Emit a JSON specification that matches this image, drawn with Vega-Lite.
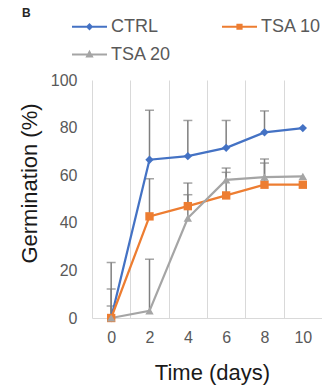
{
  "$schema": "https://vega.github.io/schema/vega-lite/v6.json",
  "autosize": {"type": "none"},
  "padding": {"left": 92, "top": 80, "right": 0, "bottom": 70},
  "width": 230,
  "height": 238,
  "background": "white",
  "title": {"text": "B", "anchor": "start", "frame": "group", "fontSize": 12, "fontWeight": "bold", "font": "Liberation Sans", "color": "#262626", "dx": -70, "dy": 12, "offset": 0},
  "config": {"view": {"stroke": null}, "font": "Liberation Sans"},
  "data": {"values": [
    {"series": "CTRL", "day": 0, "value": 0, "hi": 23.3},
    {"series": "CTRL", "day": 2, "value": 66.5, "hi": 87.3},
    {"series": "CTRL", "day": 4, "value": 68, "hi": 83},
    {"series": "CTRL", "day": 6, "value": 71.5, "hi": 83},
    {"series": "CTRL", "day": 8, "value": 78, "hi": 87},
    {"series": "CTRL", "day": 10, "value": 79.8, "hi": 79.8},
    {"series": "TSA 10", "day": 0, "value": 0, "hi": 12.2},
    {"series": "TSA 10", "day": 2, "value": 42.7, "hi": 58.5},
    {"series": "TSA 10", "day": 4, "value": 47, "hi": 56.7},
    {"series": "TSA 10", "day": 6, "value": 51.5, "hi": 61.2},
    {"series": "TSA 10", "day": 8, "value": 56, "hi": 65.1},
    {"series": "TSA 10", "day": 10, "value": 56, "hi": 56},
    {"series": "TSA 20", "day": 0, "value": 0, "hi": 5},
    {"series": "TSA 20", "day": 2, "value": 3, "hi": 24.7},
    {"series": "TSA 20", "day": 4, "value": 42, "hi": 51.8},
    {"series": "TSA 20", "day": 6, "value": 58, "hi": 63},
    {"series": "TSA 20", "day": 8, "value": 59.2, "hi": 66.8},
    {"series": "TSA 20", "day": 10, "value": 59.5, "hi": 59.5}
  ]},
  "encoding": {
    "x": {"field": "day", "type": "ordinal", "sort": [0, 2, 4, 6, 8, 10],
      "scale": {"type": "band", "paddingInner": 0, "paddingOuter": 0},
      "axis": {"title": "Time (days)", "titleFontSize": 22, "titleFontWeight": "normal", "titleColor": "#1a1a1a", "titleX": 120, "titleY": 54, "titleBaseline": "middle",
        "labelAngle": 0, "labelFontSize": 16, "labelColor": "#595959", "labelPadding": 11,
        "ticks": false, "grid": true, "tickBand": "extent", "gridColor": "#d9d9d9", "gridWidth": 1, "domainColor": "#d9d9d9", "domainWidth": 1}},
    "y": {"field": "value", "type": "quantitative",
      "scale": {"domain": [0, 100], "nice": false},
      "axis": {"title": "Germination (%)", "titleFontSize": 22, "titleFontWeight": "normal", "titleColor": "#1a1a1a", "titleX": -63, "titleY": 103, "titleBaseline": "middle",
        "values": [0, 20, 40, 60, 80, 100], "labelFontSize": 16, "labelColor": "#595959", "labelPadding": 15,
        "ticks": false, "grid": false, "domain": false}}
  },
  "layer": [
    {
      "transform": [{"filter": "datum.hi > datum.value"}],
      "mark": {"type": "rule", "color": "#7f7f7f", "strokeWidth": 1.5},
      "encoding": {"y2": {"field": "hi"}, "detail": {"field": "series"}}
    },
    {
      "transform": [{"filter": "datum.hi > datum.value"}],
      "mark": {"type": "tick", "color": "#7f7f7f", "size": 9, "thickness": 1.5},
      "encoding": {"y": {"field": "hi", "type": "quantitative"}, "detail": {"field": "series"}}
    },
    {
      "mark": {"type": "line", "strokeWidth": 2.25},
      "encoding": {
        "color": {"field": "series", "type": "nominal",
          "scale": {"domain": ["CTRL", "TSA 10", "TSA 20"], "range": ["#4472C4", "#ED7D31", "#A5A5A5"]},
          "legend": {"title": null, "orient": "none", "legendX": -21, "legendY": -72, "direction": "horizontal", "columns": 2,
            "columnPadding": 46, "rowPadding": 0, "labelFontSize": 18, "labelColor": "#595959", "labelOffset": 3,
            "symbolSize": 1225, "symbolStrokeWidth": 2,
            "encode": {"symbols": {"update": {
              "shape": {"signal": "datum.value === 'CTRL' ? 'M-1,0H1M0,-0.13L0.13,0L0,0.13L-0.13,0Z' : datum.value === 'TSA 10' ? 'M-1,0H1M-0.12,-0.12H0.12V0.12H-0.12Z' : 'M-1,0H1M0,-0.15L0.14,0.11H-0.14Z'"},
              "fill": {"signal": "scale('color', datum.value)"},
              "fillOpacity": {"value": 1}
            }}}}}
      }
    },
    {
      "transform": [{"filter": "datum.series === 'CTRL'"}],
      "mark": {"type": "point", "filled": true, "opacity": 1, "size": 70, "shape": "diamond", "color": "#4472C4"}
    },
    {
      "transform": [{"filter": "datum.series === 'TSA 10'"}],
      "mark": {"type": "point", "filled": true, "opacity": 1, "size": 70, "shape": "square", "color": "#ED7D31"}
    },
    {
      "transform": [{"filter": "datum.series === 'TSA 20'"}],
      "mark": {"type": "point", "filled": true, "opacity": 1, "size": 70, "shape": "triangle-up", "color": "#A5A5A5"}
    }
  ]
}
